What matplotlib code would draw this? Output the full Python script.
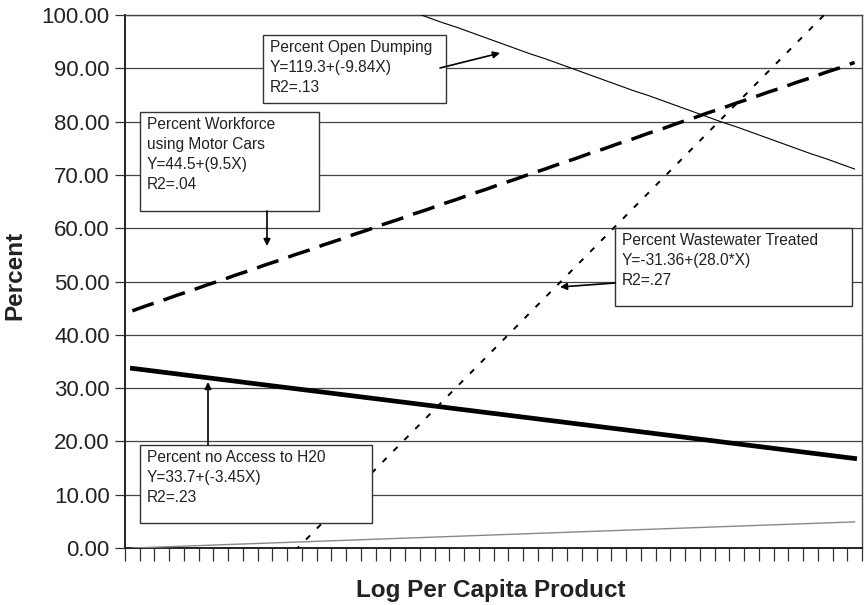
import matplotlib.pyplot as plt
from matplotlib.patches import Rectangle

plt.rcParams['font.family'] = ['Liberation Sans', 'DejaVu Sans']

# log per capita product, one value per category (also drawn as the grey series)
log_pcp = [0.0, 0.1, 0.2, 0.3, 0.4, 0.5, 0.6, 0.7, 0.8, 0.9,
           1.0, 1.1, 1.2, 1.3, 1.4, 1.5, 1.6, 1.7, 1.8, 1.9,
           2.0, 2.1, 2.2, 2.3, 2.4, 2.5, 2.6, 2.7, 2.8, 2.9,
           3.0, 3.1, 3.2, 3.3, 3.4, 3.5, 3.6, 3.7, 3.8, 3.9,
           4.0, 4.1, 4.2, 4.3, 4.4, 4.5, 4.6, 4.7, 4.8, 4.9]

open_dumping = [119.3, 118.3, 117.3, 116.4, 115.4, 114.4, 113.4, 112.4, 111.4, 110.4,
                109.5, 108.5, 107.5, 106.5, 105.5, 104.5, 103.6, 102.6, 101.6, 100.6,
                99.6, 98.6, 97.7, 96.7, 95.7, 94.7, 93.7, 92.7, 91.8, 90.8,
                89.8, 88.8, 87.8, 86.8, 85.8, 84.9, 83.9, 82.9, 81.9, 80.9,
                79.9, 79.0, 78.0, 77.0, 76.0, 75.0, 74.0, 73.1, 72.1, 71.1]

motor_cars = [44.5, 45.5, 46.4, 47.4, 48.3, 49.3, 50.2, 51.2, 52.1, 53.1,
              54.0, 55.0, 55.9, 56.9, 57.8, 58.8, 59.7, 60.7, 61.6, 62.6,
              63.5, 64.5, 65.4, 66.4, 67.3, 68.3, 69.2, 70.2, 71.1, 72.1,
              73.0, 74.0, 74.9, 75.9, 76.8, 77.8, 78.7, 79.7, 80.6, 81.6,
              82.5, 83.5, 84.4, 85.4, 86.3, 87.3, 88.2, 89.2, 90.1, 91.1]

wastewater = [-31.4, -28.6, -25.8, -23.0, -20.2, -17.4, -14.6, -11.8, -9.0, -6.2,
              -3.4, -0.6, 2.2, 5.0, 7.8, 10.6, 13.4, 16.2, 19.0, 21.8,
              24.6, 27.4, 30.2, 33.0, 35.8, 38.6, 41.4, 44.2, 47.0, 49.8,
              52.6, 55.4, 58.2, 61.0, 63.8, 66.6, 69.4, 72.2, 75.0, 77.8,
              80.6, 83.4, 86.2, 89.0, 91.8, 94.6, 97.4, 100.2, 103.0, 105.8]

no_water = [33.70, 33.36, 33.01, 32.67, 32.32, 31.98, 31.63, 31.29, 30.94, 30.60,
            30.25, 29.91, 29.56, 29.22, 28.87, 28.53, 28.18, 27.84, 27.49, 27.15,
            26.80, 26.46, 26.11, 25.77, 25.42, 25.08, 24.73, 24.39, 24.04, 23.70,
            23.35, 23.01, 22.66, 22.32, 21.97, 21.63, 21.28, 20.94, 20.59, 20.25,
            19.90, 19.56, 19.21, 18.87, 18.52, 18.18, 17.83, 17.49, 17.14, 16.80]

y_ticks = [0, 10, 20, 30, 40, 50, 60, 70, 80, 90, 100]

W, H = 865, 605
fig = plt.figure(figsize=(W / 100, H / 100), dpi=100)
ax = fig.add_axes([125 / W, 1 - 548 / H, 737 / W, 533 / H])

cats = list(range(len(log_pcp)))

ax.plot(cats, log_pcp, color='#888888', lw=1.0, zorder=3)
ax.plot(cats, no_water, color='black', lw=3.4, zorder=3, solid_joinstyle='round')
ax.plot(cats, wastewater, color='black', lw=1.4, linestyle=(0, (3, 5.0)), zorder=3)
ax.plot(cats, motor_cars, color='black', lw=2.5, linestyle=(0, (6.5, 3.0)), zorder=3)
ax.plot(cats, open_dumping, color='black', lw=0.8, zorder=3)

ax.set_xlim(-0.5, len(cats) - 0.5)
ax.set_ylim(0, 100)

# category boundaries as x ticks, no labels
ax.set_xticks([c - 0.5 for c in cats] + [len(cats) - 0.5])
ax.set_xticklabels([])
ax.tick_params(axis='x', direction='out', length=9, width=0.9, color='#333333')

ax.set_yticks(y_ticks)
ax.set_yticklabels(['%.2f' % v for v in y_ticks], fontsize=16, color='#222222')
ax.tick_params(axis='y', direction='out', length=7.5, width=0.9, color='#333333', pad=3.5)

ax.grid(axis='y', color='#444444', lw=0.9)
ax.set_axisbelow(True)
for side in ['left', 'bottom']:
    ax.spines[side].set_linewidth(1.4)
    ax.spines[side].set_color('#222222')
for side in ['top', 'right']:
    ax.spines[side].set_linewidth(1.0)
    ax.spines[side].set_color('#444444')

fig.text(15 / W, 1 - 275 / H, 'Percent', rotation=90, fontsize=17.5,
         fontweight='bold', ha='center', va='center', color='#222222')
fig.text(491 / W, 1 - 590 / H, 'Log Per Capita Product', fontsize=17.5,
         fontweight='bold', ha='center', va='center', color='#222222')


def fp(x, y):
    # pixel position from top-left -> figure fraction
    return (x / W, 1 - y / H)


def label_box(x0, y0, x1, y1, text):
    fig.patches.append(Rectangle(fp(x0, y1), (x1 - x0) / W, (y1 - y0) / H,
                                 transform=fig.transFigure, facecolor='white',
                                 edgecolor='#333333', lw=1.0, zorder=5))
    fig.text(*fp(x0 + 7, y0 + 5), text, fontsize=11.2, ha='left', va='top',
             linespacing=1.42, color='#222222', zorder=6)


def arrow(start, end):
    fig.add_artist(plt.Annotation('', xy=fp(*end), xytext=fp(*start),
                                  xycoords='figure fraction', textcoords='figure fraction',
                                  arrowprops=dict(arrowstyle='-|>', color='black', lw=1.2,
                                                  mutation_scale=10, shrinkA=0, shrinkB=0),
                                  zorder=6))


label_box(263, 35, 446, 103, 'Percent Open Dumping\nY=119.3+(-9.84X)\nR2=.13')
arrow((440, 68), (500, 53))

label_box(140, 112, 319, 211, 'Percent Workforce\nusing Motor Cars\nY=44.5+(9.5X)\nR2=.04')
arrow((267, 211), (267, 246))

label_box(615, 228, 852, 306, 'Percent Wastewater Treated\nY=-31.36+(28.0*X)\nR2=.27')
arrow((615, 283), (560, 287))

label_box(140, 445, 372, 523, 'Percent no Access to H20\nY=33.7+(-3.45X)\nR2=.23')
arrow((208, 445), (208, 382))

fig.savefig('out.png', dpi=100)
